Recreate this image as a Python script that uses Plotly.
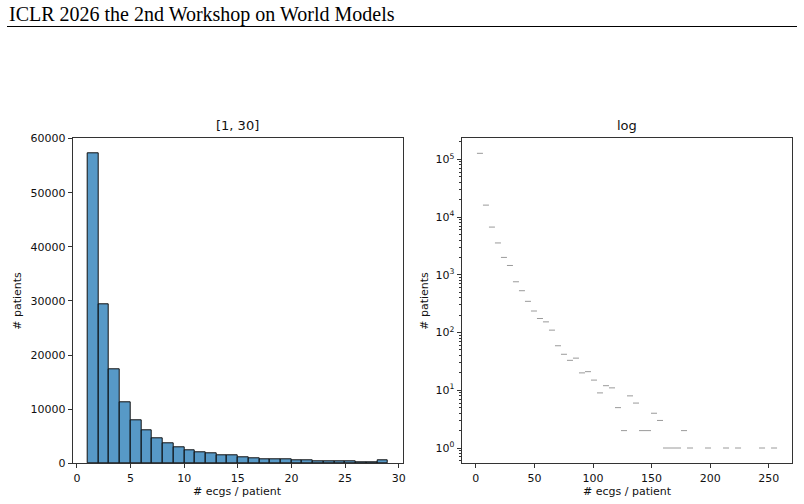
import numpy as np
import plotly.graph_objects as go

W, H = 804, 504

# ---- Left panel: counts for 1..28 (bin width 1) ----
left_bins = list(range(1, 29))
left_counts = [57200, 29300, 17350, 11250, 7960, 6050, 4580, 3650, 3020, 2460,
               2030, 1780, 1410, 1400, 1110, 920, 760, 740, 650, 500,
               480, 330, 320, 310, 280, 200, 190, 480]

# ---- Right panel: 50 bins from 1 to 257, log y ----
right_min, right_max, right_nbins = 1, 257, 50
right_counts = [127000, 16100, 6700, 3560, 2000, 1450, 757, 530, 347, 236,
                175, 153, 110, 59, 42, 33, 36, 20, 21, 15,
                9, 12, 11, 5, 2, 8, 6, 2, 2, 4,
                3, 1, 1, 1, 2, 1, 0, 0, 1, 0,
                0, 1, 0, 1, 0, 0, 0, 1, 0, 1]

header = "ICLR 2026 the 2nd Workshop on World Models"
left_title = "[1, 30]"
right_title = "log"
xlabel = "# ecgs / patient"
ylabel = "# patients"

edges = np.linspace(right_min, right_max, right_nbins + 1)
seg_x, seg_y = [], []
for i, c in enumerate(right_counts):
    if c > 0:
        seg_x += [edges[i], edges[i + 1], None]
        seg_y += [c, c, None]

def px_x(p):
    return p / W

def px_y(p):
    return 1 - p / H

L0, L1 = 72.7, 403.0
R0, R1 = 461.7, 792.3
T, B = 138.3, 463.3

fig = go.Figure()
fig.add_trace(go.Bar(
    x=left_bins, y=left_counts, width=1, offset=0,
    marker=dict(color="rgba(31,119,180,0.75)", line=dict(color="#111111", width=1)),
    xaxis="x", yaxis="y", showlegend=False,
))
fig.add_trace(go.Scatter(
    x=seg_x, y=seg_y, mode="lines",
    line=dict(color="#9a9a9a", width=1),
    xaxis="x2", yaxis="y2", showlegend=False,
))

tickfont = dict(family="DejaVu Sans", size=11, color="#111111")
common = dict(showline=True, linecolor="#333333", linewidth=1, mirror=True,
              ticks="outside", ticklen=4, tickwidth=1, tickcolor="#333333",
              showgrid=False, zeroline=False, tickfont=tickfont, automargin=False)

log_major = [1, 10, 100, 1000, 10000, 100000]
log_text = ["10<sup>0</sup>", "10<sup>1</sup>", "10<sup>2</sup>", "10<sup>3</sup>",
            "10<sup>4</sup>", "10<sup>5</sup>"]
log_minor = [m * d for d in [0.1, 1, 10, 100, 1000, 10000, 100000] for m in range(2, 10)]

fig.update_layout(
    template="none",
    width=W, height=H, margin=dict(l=0, r=0, t=0, b=0, pad=0, autoexpand=False),
    paper_bgcolor="white", plot_bgcolor="white", bargap=0,
    xaxis=dict(domain=[px_x(L0), px_x(L1)], range=[-0.4, 30.4],
               tickvals=[0, 5, 10, 15, 20, 25, 30], anchor="y", **common),
    yaxis=dict(domain=[px_y(B), px_y(T)], range=[0, 60060],
               tickvals=[0, 10000, 20000, 30000, 40000, 50000, 60000],
               tickformat="d", anchor="x", **common),
    xaxis2=dict(domain=[px_x(R0), px_x(R1)], range=[-12, 270],
                tickvals=[0, 50, 100, 150, 200, 250], anchor="y2", **common),
    yaxis2=dict(domain=[px_y(B), px_y(T)], type="log", range=[-0.265, 5.364],
                tickvals=log_major, ticktext=log_text, anchor="x2",
                minor=dict(tickvals=log_minor, ticks="outside", ticklen=2,
                           tickcolor="#333333"),
                **common),
)

annots = [
    dict(text=header, x=px_x(7), y=px_y(14), xanchor="left", yanchor="middle",
         font=dict(family="Liberation Serif", size=20, color="black")),
    dict(text=left_title, x=px_x((L0 + L1) / 2), y=px_y(125), xanchor="center", yanchor="middle",
         font=dict(family="DejaVu Sans", size=13, color="#111111")),
    dict(text=right_title, x=px_x((R0 + R1) / 2), y=px_y(125), xanchor="center", yanchor="middle",
         font=dict(family="DejaVu Sans", size=13, color="#111111")),
    dict(text=xlabel, x=px_x((L0 + L1) / 2), y=px_y(491), xanchor="center", yanchor="middle",
         font=dict(family="DejaVu Sans", size=11, color="#111111")),
    dict(text=xlabel, x=px_x((R0 + R1) / 2), y=px_y(491), xanchor="center", yanchor="middle",
         font=dict(family="DejaVu Sans", size=11, color="#111111")),
    dict(text=ylabel, x=px_x(18), y=px_y((T + B) / 2), xanchor="center", yanchor="middle",
         textangle=-90, font=dict(family="DejaVu Sans", size=11, color="#111111")),
    dict(text=ylabel, x=px_x(425), y=px_y((T + B) / 2), xanchor="center", yanchor="middle",
         textangle=-90, font=dict(family="DejaVu Sans", size=11, color="#111111")),
]
for a in annots:
    a.update(xref="paper", yref="paper", showarrow=False)
fig.update_layout(annotations=annots)

fig.add_shape(type="line", xref="paper", yref="paper",
              x0=px_x(7), x1=px_x(797), y0=px_y(26.5), y1=px_y(26.5),
              line=dict(color="black", width=1))

fig.write_html("out.html")
